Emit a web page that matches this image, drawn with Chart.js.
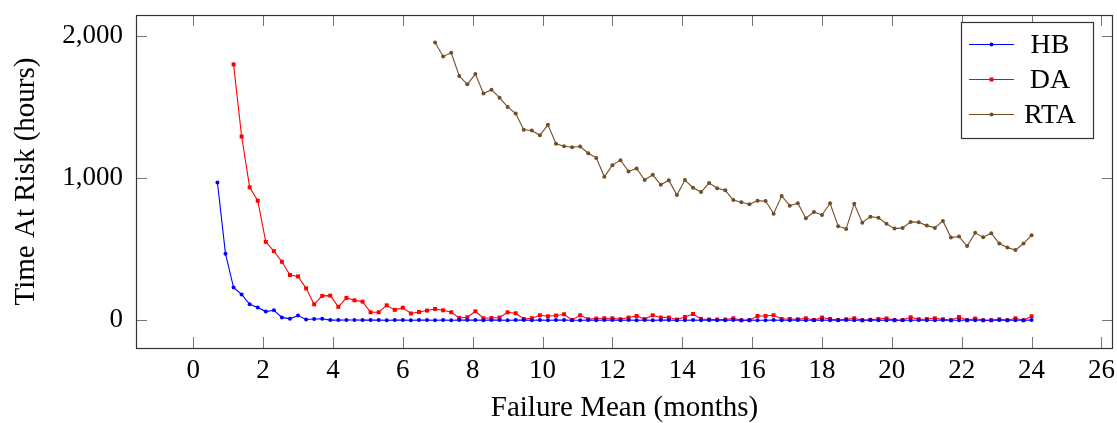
<!DOCTYPE html>
<html>
<head>
<meta charset="utf-8">
<title>Time At Risk vs Failure Mean</title>
<script src="https://cdn.jsdelivr.net/npm/chart.js@4/dist/chart.umd.min.js"></script>
<style>
  html, body { margin: 0; padding: 0; background: #fff; }
  #wrap { width: 1117px; height: 423px; position: relative; }
</style>
</head>
<body>
<div id="wrap"><canvas id="grafico"></canvas></div>
<script>
// Failure mean in months, one sample per week (week 3 up to week 104)
const failureMean = [
  0.692, 0.923, 1.154, 1.385, 1.615, 1.846, 2.077, 2.308, 2.538, 2.769,
  3, 3.231, 3.462, 3.692, 3.923, 4.154, 4.385, 4.615, 4.846, 5.077, 5.308, 5.538, 5.769,
  6, 6.231, 6.462, 6.692, 6.923, 7.154, 7.385, 7.615, 7.846, 8.077, 8.308, 8.538, 8.769,
  9, 9.231, 9.462, 9.692, 9.923, 10.154, 10.385, 10.615, 10.846, 11.077, 11.308, 11.538, 11.769,
  12, 12.231, 12.462, 12.692, 12.923, 13.154, 13.385, 13.615, 13.846, 14.077, 14.308, 14.538, 14.769,
  15, 15.231, 15.462, 15.692, 15.923, 16.154, 16.385, 16.615, 16.846, 17.077, 17.308, 17.538, 17.769,
  18, 18.231, 18.462, 18.692, 18.923, 19.154, 19.385, 19.615, 19.846, 20.077, 20.308, 20.538, 20.769,
  21, 21.231, 21.462, 21.692, 21.923, 22.154, 22.385, 22.615, 22.846, 23.077, 23.308, 23.538, 23.769,
  24
];

// HB starts at the first sample
const hbHours = [
  968, 468, 230, 181, 112, 90, 61, 70, 20, 10,
  33, 5, 9, 10, 1, 1, 2, 2, 1, 2,
  1, 0, 1, 1, 0, 2, 1, 0, 1, 0,
  1, 2, 1, 0, 1, 1, 0, 1, 2, 0,
  1, 0, 1, 1, 0, 0, 1, 0, 1, 2,
  0, 1, 0, 1, 0, 1, 1, 0, 0, 1,
  0, 1, 0, 0, 1, 0, 1, 0, 0, 1,
  0, 0, 1, 0, 0, 1, 0, 0, 1, 0,
  0, 1, 0, 0, 1, 0, 0, 1, 0, 0,
  1, 0, 0, 1, 0, 0, 0, 1, 0, 0,
  0, 1
];

// DA starts at the third sample (week 5)
const daHours = [
  1798, 1291, 934, 840, 551, 486, 411, 318, 308, 224,
  112, 171, 173, 94, 157, 140, 131, 56, 56, 105,
  73, 88, 48, 58, 68, 79, 70, 56, 16, 21,
  63, 14, 16, 19, 56, 49, 9, 14, 35, 28,
  33, 42, 2, 35, 7, 12, 14, 14, 7, 19,
  30, 8, 35, 19, 19, 5, 23, 44, 9, 5,
  5, 5, 14, 0, 0, 30, 30, 35, 9, 9,
  7, 14, 2, 19, 9, 2, 7, 14, 0, 3,
  9, 13, 0, 2, 21, 7, 9, 14, 7, 0,
  23, 0, 12, 0, 0, 7, 0, 14, 0, 28
];

// RTA starts at week 30
const rtaHours = [
  1952, 1854, 1880, 1716, 1658, 1730, 1594, 1620, 1564, 1499,
  1452, 1338, 1333, 1300, 1373, 1240, 1223, 1216, 1221, 1174,
  1141, 1008, 1090, 1125, 1046, 1067, 985, 1022, 952, 983,
  880, 985, 931, 901, 964, 927, 913, 845, 829, 815,
  840, 838, 749, 873, 805, 822, 717, 761, 740, 822,
  661, 642, 819, 686, 728, 720, 678, 644, 649, 691,
  689, 665, 649, 698, 581, 588, 521, 614, 584, 612,
  539, 511, 493, 539, 598
];

const monthTicks = [0, 2, 4, 6, 8, 10, 12, 14, 16, 18, 20, 22, 24, 26];
const hourTicks = [0, 1000, 2000];
const seriesNames = ['HB', 'DA', 'RTA'];
const seriesColors = ['#0000ff', '#ff0000', '#734d26'];

const FUENTE = "'Liberation Serif', 'DejaVu Serif', serif";

// Pair each series with its failure mean values
function armarSerie(valores) {
  const inicio = failureMean.length - valores.length;
  return valores.map((v, i) => ({ x: failureMean[inicio + i], y: v }));
}

// Keep the plot area fixed: no extra room for overhanging labels
function sinRelleno(s) {
  s.paddingTop = 0; s.paddingBottom = 0;
  s.paddingLeft = 0; s.paddingRight = 0;
}

// Frame with inward ticks on all four sides
const marcoEjes = {
  id: 'marcoEjes',
  afterDatasetsDraw(chart) {
    const { ctx, chartArea: a, scales } = chart;
    const largo = 11;
    ctx.save();
    ctx.strokeStyle = '#777';
    ctx.lineWidth = 1;
    ctx.beginPath();
    monthTicks.forEach(v => {
      const px = Math.round(scales.x.getPixelForValue(v)) + 0.5;
      ctx.moveTo(px, a.bottom); ctx.lineTo(px, a.bottom - largo);
      ctx.moveTo(px, a.top); ctx.lineTo(px, a.top + largo);
    });
    hourTicks.forEach(v => {
      const py = Math.round(scales.y.getPixelForValue(v)) + 0.5;
      ctx.moveTo(a.left, py); ctx.lineTo(a.left + largo, py);
      ctx.moveTo(a.right, py); ctx.lineTo(a.right - largo, py);
    });
    ctx.stroke();
    ctx.strokeStyle = '#333';
    ctx.lineWidth = 1.2;
    ctx.strokeRect(Math.round(a.left) + 0.5, Math.round(a.top) + 0.5,
      Math.round(a.right - a.left) - 1, Math.round(a.bottom - a.top));
    ctx.restore();
  }
};

// Legend box in the upper right corner
const leyenda = {
  id: 'leyenda',
  afterDraw(chart) {
    const { ctx } = chart;
    const caja = { x: 961, y: 22, w: 132, h: 116 };
    ctx.save();
    ctx.fillStyle = '#fff';
    ctx.fillRect(caja.x, caja.y, caja.w, caja.h);
    ctx.strokeStyle = '#333';
    ctx.lineWidth = 1.2;
    ctx.strokeRect(caja.x + 0.5, caja.y + 0.5, caja.w, caja.h);
    chart.data.datasets.forEach((ds, i) => {
      const y = 44.5 + i * 35;
      ctx.strokeStyle = ds.borderColor;
      ctx.lineWidth = ds.borderWidth;
      ctx.beginPath();
      ctx.moveTo(969, y); ctx.lineTo(1014, y);
      ctx.stroke();
      ctx.fillStyle = ds.borderColor;
      const r = ds.pointRadius;
      if (ds.pointStyle === 'rect') {
        const s = r * Math.SQRT1_2;
        ctx.fillRect(991.5 - s, y - s, 2 * s, 2 * s);
      } else {
        ctx.beginPath();
        ctx.arc(991.5, y, r, 0, Math.PI * 2);
        ctx.fill();
      }
      ctx.fillStyle = '#000';
      ctx.font = '28px ' + FUENTE;
      ctx.textAlign = 'center';
      ctx.textBaseline = 'middle';
      ctx.fillText(ds.label, 1050, y + 1);
    });
    ctx.restore();
  }
};

const datasets = [hbHours, daHours, rtaHours].map((valores, i) => ({
  label: seriesNames[i],
  data: armarSerie(valores),
  borderColor: seriesColors[i],
  backgroundColor: seriesColors[i],
  pointBackgroundColor: seriesColors[i],
  borderWidth: 1.1,
  pointBorderWidth: 0,
  pointRadius: i === 1 ? 2.8 : 2,
  pointStyle: i === 1 ? 'rect' : 'circle',
  tension: 0,
  fill: false
}));

const ctx = document.getElementById('grafico').getContext('2d');
new Chart(ctx, {
  type: 'line',
  data: { datasets },
  options: {
    responsive: true,
    maintainAspectRatio: false,
    animation: false,
    layout: { padding: { left: 0, right: 2, top: 15, bottom: 0 } },
    plugins: { legend: { display: false }, tooltip: { enabled: false } },
    scales: {
      x: {
        type: 'linear',
        min: -1.639,
        max: 26.331,
        afterBuildTicks: s => { s.ticks = monthTicks.map(v => ({ value: v })); },
        afterFit: s => { s.height = 75; sinRelleno(s); },
        grid: { display: false, drawTicks: false },
        border: { display: false },
        ticks: {
          color: '#000',
          font: { family: FUENTE, size: 27 },
          padding: 7,
          maxRotation: 0,
          autoSkip: false
        },
        title: {
          display: true,
          text: 'Failure Mean (months)',
          color: '#000',
          font: { family: FUENTE, size: 29, lineHeight: 1 },
          padding: 0
        }
      },
      y: {
        min: -195,
        max: 2145,
        afterBuildTicks: s => { s.ticks = hourTicks.map(v => ({ value: v })); },
        afterFit: s => { s.width = 136; sinRelleno(s); },
        grid: { display: false, drawTicks: false },
        border: { display: false },
        ticks: {
          color: '#000',
          font: { family: FUENTE, size: 27 },
          padding: 13,
          callback: v => v.toLocaleString('en-US')
        },
        title: {
          display: true,
          text: 'Time At Risk (hours)',
          color: '#000',
          font: { family: FUENTE, size: 29 },
          padding: { top: 9, bottom: 0 }
        }
      }
    }
  },
  plugins: [marcoEjes, leyenda]
});
</script>
</body>
</html>
